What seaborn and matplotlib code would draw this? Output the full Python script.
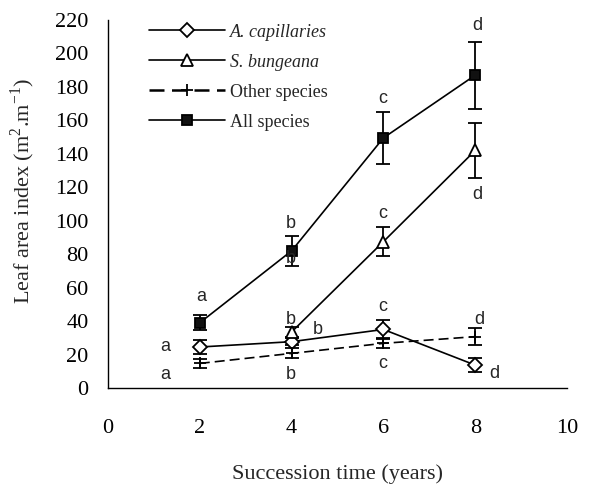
import numpy as np
import pandas as pd
import matplotlib
matplotlib.use("Agg")
import matplotlib.pyplot as plt
from matplotlib.lines import Line2D
import seaborn as sns

# ---- data ----
years = [2, 4, 6, 8]
series_names = ["A. capillaries", "S. bungeana", "Other species", "All species"]
a_cap = [24.5, 27.7, 35, 13.7]
a_cap_err = [4, 2, 5.5, 4]
s_bun = [np.nan, 33.5, 87.5, 142]
s_bun_err = [np.nan, 3, 8.5, 16.5]
other = [14.7, 20.7, 26.7, 30.7]
other_err = [2.5, 3, 3, 5]
allsp = [39, 82, 149.5, 187]
allsp_err = [4.5, 9, 15.5, 20]

# significance letters: (x, y, text)
letter_x = [2.04, 1.24, 1.24, 3.99, 3.99, 3.99, 4.57, 3.99, 5.99, 5.99, 5.99, 5.99, 8.04, 8.04, 8.09, 8.41]
letter_y = [54.6, 24.7, 7.8, 98.5, 77.5, 41, 34.7, 7.8, 173, 104.5, 48.6, 14.7, 217, 115.4, 41, 8.4]
letter_t = ["a", "a", "a", "b", "b", "b", "b", "b", "c", "c", "c", "c", "d", "d", "d", "d"]

xticks = [0, 2, 4, 6, 8, 10]
yticks = list(range(0, 221, 20))

sns.set_theme(style="white")
plt.rcParams["font.family"] = ["Liberation Serif", "DejaVu Serif"]
plt.rcParams["mathtext.fontset"] = "custom"
plt.rcParams["mathtext.rm"] = "Liberation Serif"

fig = plt.figure(figsize=(5.91, 4.86), dpi=100)
ax = fig.add_axes([108/591, 1-388/486, (567-108)/591, (388-20)/486])

vals = [a_cap, s_bun, other, allsp]
errs = [a_cap_err, s_bun_err, other_err, allsp_err]
markers = ["D", "^", "+", "s"]
msizes = [7, 8, 9, 7.5]
mfcs = ["white", "white", "black", "#111111"]
lss = ["-", "-", (0, (6, 3)), "-"]
handles = []
for name, v, e, m, ms, fc, ls in zip(series_names, vals, errs, markers, msizes, mfcs, lss):
    df = pd.DataFrame({"x": years, "y": v}).dropna()
    ax.errorbar(years, v, yerr=e, fmt="none", ecolor="black", elinewidth=1.3,
                capsize=4.8, capthick=1.3, zorder=2)
    sns.lineplot(data=df, x="x", y="y", ax=ax, color="black", linewidth=1.2,
                 linestyle=ls, marker=m, markersize=ms, markerfacecolor=fc,
                 markeredgecolor="black", markeredgewidth=1.3, zorder=3)
    handles.append(Line2D([], [], color="black", linewidth=1.2 if ls == "-" else 1.8,
                          linestyle=ls, marker=m, markersize=ms,
                          markerfacecolor=fc, markeredgecolor="black",
                          markeredgewidth=1.3))

for x, y, t in zip(letter_x, letter_y, letter_t):
    ax.text(x, y, t, ha="center", va="center", fontsize=13,
            family=["Liberation Sans", "DejaVu Sans"], zorder=4)

ax.set_xlim(0, 10)
ax.set_ylim(0, 220)
ax.set_xticks(xticks)
ax.set_yticks(yticks)
ax.tick_params(axis="both", direction="in", length=5, width=1, labelsize=16,
               colors="black")
ax.tick_params(axis="y", pad=14)
ax.tick_params(axis="x", pad=22)
for s in ["top", "right"]:
    ax.spines[s].set_visible(False)
for s in ["left", "bottom"]:
    ax.spines[s].set_color("black")
    ax.spines[s].set_linewidth(1.0)

ax.set_xlabel("Succession time (years)", fontsize=16)
ax.set_ylabel("Leaf area index (m$^{2}$.m$^{-1}$)", fontsize=16)
ax.xaxis.set_label_coords(0.5, -0.208)
ax.yaxis.set_label_coords(-0.154, 0.535)

leg = ax.legend(handles=handles, labels=series_names, loc="upper left",
                bbox_to_anchor=(0.0894, 0.99), frameon=False, fontsize=13,
                handlelength=4.2, handletextpad=0.3, labelspacing=0.72,
                borderpad=0, borderaxespad=0)
for txt in leg.get_texts()[:2]:
    txt.set_style("italic")

fig.savefig("out.png", dpi=100)
